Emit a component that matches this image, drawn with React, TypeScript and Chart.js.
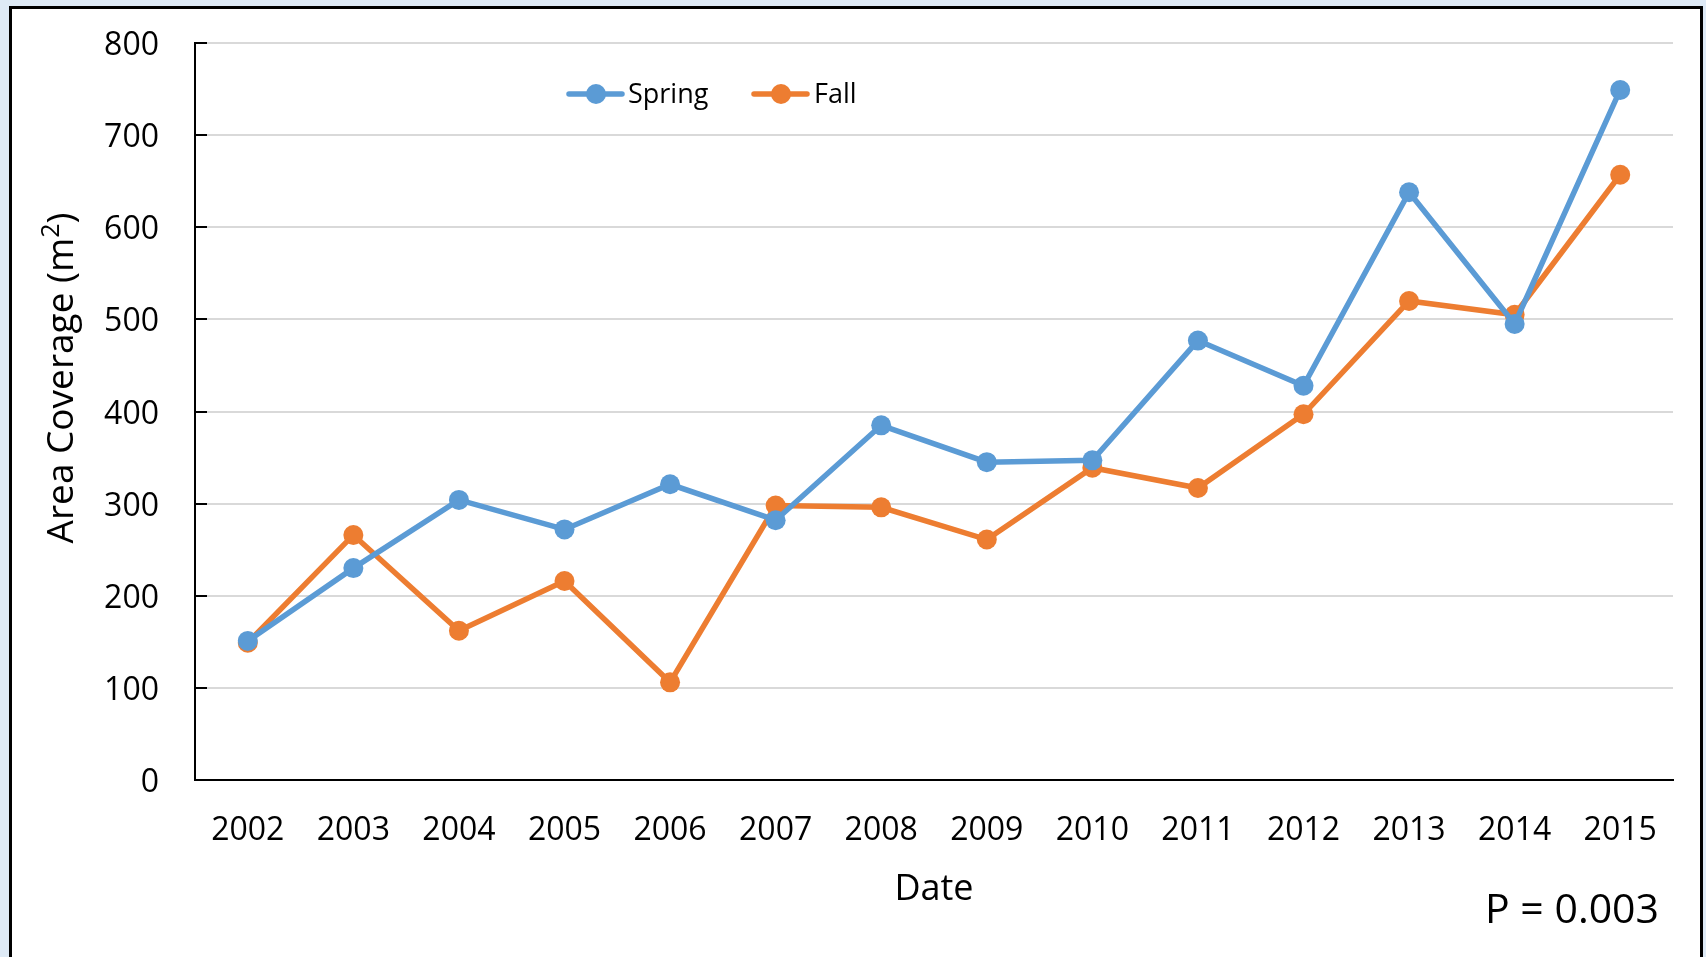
import React, { useEffect, useRef } from "react";
import { Chart, registerables } from "chart.js";

Chart.register(...registerables);

const years = ["2002","2003","2004","2005","2006","2007","2008","2009","2010","2011","2012","2013","2014","2015"];
const springValues = [151, 230, 304, 272, 321, 282, 385, 345, 347, 477, 428, 638, 495, 749];
const fallValues = [149, 266, 162, 216, 106, 298, 296, 261, 339, 317, 397, 520, 505, 657];
const seriesNames = ["Spring", "Fall"];
const seriesColors = ["#5B9BD5", "#ED7D31"];
const yTitleMain = "Area Coverage (m";
const yTitleSup = "2";
const yTitleEnd = ")";
const xTitle = "Date";
const pText = "P = 0.003";

const FONT = "'Open Sans', Lato, sans-serif";

const decor = {
  id: "decor",
  afterDraw(chart: any) {
    const ctx = chart.ctx;
    const y = chart.scales.y;
    const area = chart.chartArea;
    ctx.save();
    // inside tick marks on y axis
    ctx.strokeStyle = "#000";
    ctx.lineWidth = 2;
    y.ticks.forEach((t: any) => {
      const py = Math.round(y.getPixelForValue(t.value));
      ctx.beginPath();
      ctx.moveTo(area.left, py);
      ctx.lineTo(area.left + 12, py);
      ctx.stroke();
    });
    // y title
    ctx.save();
    ctx.translate(60, 378);
    ctx.rotate(-Math.PI / 2);
    ctx.fillStyle = "#000";
    ctx.textBaseline = "alphabetic";
    ctx.textAlign = "left";
    const mainFont = `37px ${FONT}`;
    const supFont = `25px ${FONT}`;
    ctx.font = mainFont;
    const w1 = ctx.measureText(yTitleMain).width;
    const w3 = ctx.measureText(yTitleEnd).width;
    ctx.font = supFont;
    const w2 = ctx.measureText(yTitleSup).width;
    const total = w1 + w2 + w3;
    let x = -total / 2;
    const base = 13;
    ctx.font = mainFont;
    ctx.fillText(yTitleMain, x, base);
    x += w1;
    ctx.font = supFont;
    ctx.fillText(yTitleSup, x, base - 14);
    x += w2;
    ctx.font = mainFont;
    ctx.fillText(yTitleEnd, x, base);
    ctx.restore();
    // legend
    const legendItems = [
      { x0: 569, x1: 622, mx: 596, tx: 628 },
      { x0: 754, x1: 807, mx: 781, tx: 814 },
    ];
    const ly = 94;
    chart.data.datasets.forEach((ds: any, i: number) => {
      const li = legendItems[i];
      ctx.strokeStyle = ds.borderColor;
      ctx.lineWidth = 5.5;
      ctx.lineCap = "round";
      ctx.beginPath();
      ctx.moveTo(li.x0, ly);
      ctx.lineTo(li.x1, ly);
      ctx.stroke();
      ctx.fillStyle = ds.backgroundColor;
      ctx.beginPath();
      ctx.arc(li.mx, ly, 10, 0, Math.PI * 2);
      ctx.fill();
      ctx.fillStyle = "#000";
      ctx.font = `27px ${FONT}`;
      ctx.textAlign = "left";
      ctx.textBaseline = "middle";
      ctx.fillText(ds.label, li.tx, ly + 1);
    });
    // P value
    ctx.fillStyle = "#000";
    ctx.font = `41px ${FONT}`;
    ctx.textAlign = "right";
    ctx.textBaseline = "middle";
    ctx.fillText(pText, 1659, 911);
    ctx.restore();
  },
};

export default function App() {
  const ref = useRef<HTMLCanvasElement>(null);
  useEffect(() => {
    if (!ref.current) return;
    const mk = (i: number, data: number[]) => ({
      label: seriesNames[i],
      data,
      borderColor: seriesColors[i],
      backgroundColor: seriesColors[i],
      borderWidth: 5.5,
      pointRadius: 10,
      pointHoverRadius: 10,
      pointBorderWidth: 0,
      tension: 0,
    });
    const chart = new Chart(ref.current, {
      type: "line",
      data: {
        labels: years,
        datasets: [mk(0, springValues), mk(1, fallValues)],
      },
      options: {
        responsive: false,
        animation: false,
        layout: { padding: { left: 0, right: 33, top: 43, bottom: 0 } },
        plugins: { legend: { display: false }, tooltip: { enabled: false } },
        scales: {
          x: {
            offset: true,
            grid: { display: false, drawTicks: false },
            border: { display: true, color: "#000", width: 2 },
            ticks: { color: "#000", font: { family: FONT, size: 32 }, padding: 32, maxRotation: 0 },
            title: {
              display: true,
              text: xTitle,
              color: "#000",
              font: { family: FONT, size: 36 },
              padding: { top: 0, bottom: 46 },
            },
            afterFit: (s: any) => { s.height = 177; s.paddingLeft = 0; s.paddingRight = 0; },
          },
          y: {
            min: 0,
            max: 800,
            grid: { color: "#d9d9d9", lineWidth: 2, drawTicks: false },
            border: { display: true, color: "#000", width: 2 },
            ticks: { stepSize: 100, color: "#000", font: { family: FONT, size: 32 }, padding: 36, labelOffset: 3 },
            afterFit: (s: any) => { s.width = 195; s.paddingTop = 0; s.paddingBottom = 0; },
          },
        },
      },
      plugins: [decor],
    });
    return () => chart.destroy();
  }, []);
  return (
    <div style={{ position: "absolute", left: 0, top: 0, width: 1706, height: 957, overflow: "hidden", background: "#DEEAF6" }}>
      <div style={{ position: "absolute", left: 9, top: 6, width: 1694, height: 1000, boxSizing: "border-box", border: "3px solid #000", background: "#fff" }} />
      <canvas ref={ref} width={1706} height={957} style={{ position: "absolute", left: 0, top: 0, width: 1706, height: 957 }} />
    </div>
  );
}
